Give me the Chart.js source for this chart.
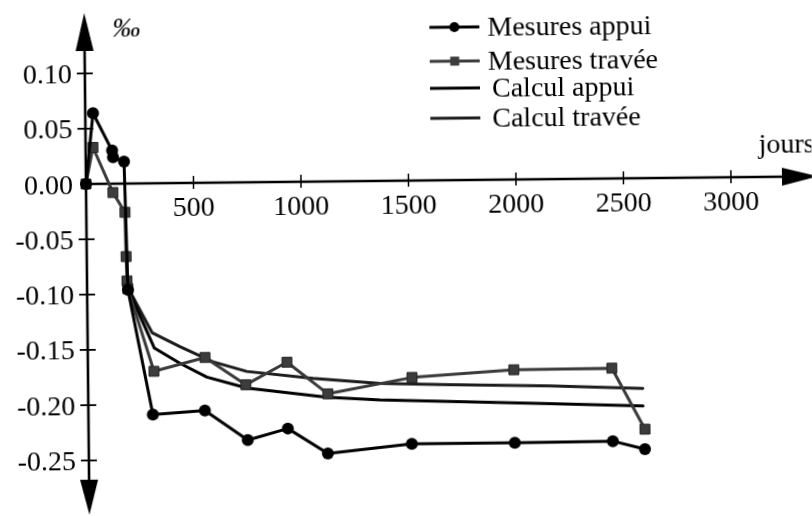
<!DOCTYPE html>
<html>
<head>
<meta charset="utf-8">
<title>Déformations différées</title>
<script src="https://cdn.jsdelivr.net/npm/chart.js@4/dist/chart.umd.min.js"></script>
<style>
  html, body { margin: 0; padding: 0; background: #fff; overflow: hidden; }
  #wrap { position: relative; width: 812px; height: 516px; overflow: hidden; background: #fff; }
  /* the drawing is slightly tilted around the axes origin */
  #chart { position: absolute; left: 0; top: 0; transform: rotate(-0.6deg); transform-origin: 86px 184px; }
</style>
</head>
<body>
<div id="wrap"><canvas id="chart" width="812" height="516"></canvas></div>
<script>
// Measured strains (‰) versus time (days)
const appuiDays   = [0, 36, 123, 127, 178, 190, 300, 542, 740, 927, 1112, 1503, 1982, 2438, 2587];
const appuiValues = [0, 0.064, 0.030, 0.024, 0.020, -0.096, -0.209, -0.206, -0.233, -0.223, -0.246, -0.238, -0.238, -0.2375, -0.245];

const traveeDays   = [0, 34, 125, 180, 183, 186, 190, 307, 545, 734, 926, 1115, 1507, 1981, 2437, 2588];
const traveeValues = [0, 0.033, -0.008, -0.026, -0.066, -0.088, -0.095, -0.170, -0.158, -0.183, -0.163, -0.192, -0.178, -0.172, -0.1715, -0.227];

// Computed strains
const calcAppuiDays   = [190, 310, 428, 553, 739, 1110, 1357, 1682, 2147, 2580];
const calcAppuiValues = [-0.095, -0.149, -0.163, -0.1757, -0.186, -0.195, -0.198, -0.200, -0.203, -0.206];

const calcTraveeDays   = [190, 300, 429, 582, 739, 1046, 1358, 1683, 2148, 2580];
const calcTraveeValues = [-0.094, -0.135, -0.148, -0.162, -0.171, -0.178, -0.183, -0.185, -0.187, -0.190];

// Axis ticks
const xTicks = [500, 1000, 1500, 2000, 2500, 3000];
const yTicks = [0.10, 0.05, 0.00, -0.05, -0.10, -0.15, -0.20, -0.25];
const xTitle = 'jours';
const yTitle = '‰';

const toPoints = (xs, ys) => xs.map((x, i) => ({ x: x, y: ys[i] }));

const FONT = '"Liberation Serif", "Times New Roman", serif';

// Draws the crossing axes with arrow heads, tick marks, tick labels and titles
const axesPlugin = {
  id: 'crossAxes',
  beforeDatasetsDraw(chart) {
    const ctx = chart.ctx;
    const xs = chart.scales.x, ys = chart.scales.y;
    const ox = xs.getPixelForValue(0), oy = ys.getPixelForValue(0);
    const yTop = ys.getPixelForValue(0.1546), yBot = ys.getPixelForValue(-0.299);
    const xEnd = xs.getPixelForValue(3405);
    ctx.save();
    ctx.strokeStyle = '#000';
    ctx.fillStyle = '#000';
    ctx.lineCap = 'butt';
    // vertical axis
    ctx.lineWidth = 2.6;
    ctx.beginPath(); ctx.moveTo(ox, yTop + 20); ctx.lineTo(ox, yBot - 20); ctx.stroke();
    // horizontal axis
    ctx.beginPath(); ctx.moveTo(ox, oy); ctx.lineTo(xEnd - 20, oy); ctx.stroke();
    // arrow heads
    ctx.beginPath(); ctx.moveTo(ox, yTop); ctx.lineTo(ox - 9, yTop + 38); ctx.lineTo(ox + 9, yTop + 38); ctx.closePath(); ctx.fill();
    ctx.beginPath(); ctx.moveTo(ox, yBot); ctx.lineTo(ox - 9, yBot - 35); ctx.lineTo(ox + 9, yBot - 35); ctx.closePath(); ctx.fill();
    ctx.beginPath(); ctx.moveTo(xEnd, oy); ctx.lineTo(xEnd - 36, oy - 9); ctx.lineTo(xEnd - 36, oy + 9); ctx.closePath(); ctx.fill();

    ctx.font = '28px ' + FONT;
    // y ticks and labels
    ctx.lineWidth = 1.8;
    ctx.textAlign = 'right';
    ctx.textBaseline = 'alphabetic';
    yTicks.forEach(v => {
      const py = ys.getPixelForValue(v);
      if (v !== 0) {
        ctx.beginPath(); ctx.moveTo(ox - 8, py); ctx.lineTo(ox + 8, py); ctx.stroke();
      }
      ctx.fillText(v.toFixed(2), ox - 13, py + 9.5);
    });
    // x ticks and labels
    ctx.lineWidth = 1.5;
    ctx.textAlign = 'center';
    xTicks.forEach(v => {
      const px = xs.getPixelForValue(v);
      ctx.beginPath(); ctx.moveTo(px, oy - 7); ctx.lineTo(px, oy + 6); ctx.stroke();
      ctx.fillText(String(v), px, oy + 32.5);
    });
    // axis titles
    ctx.textAlign = 'left';
    ctx.fillText(xTitle, xs.getPixelForValue(3130), oy - 24);
    ctx.font = 'italic 28px ' + FONT;
    ctx.fillText(yTitle, ox + 28, ys.getPixelForValue(0.1325));
    ctx.restore();
  },
  afterDraw(chart) {
    // legend: a short line sample, optional marker, then the label
    const ctx = chart.ctx;
    const rows = [31, 65, 92, 122];
    const textX = [489, 489, 493, 493];
    const x0 = 431, x1 = 481;
    ctx.save();
    ctx.font = '28px ' + FONT;
    ctx.textAlign = 'left';
    ctx.textBaseline = 'alphabetic';
    chart.data.datasets.forEach((ds, i) => {
      const y = rows[i];
      ctx.strokeStyle = ds.borderColor;
      ctx.lineWidth = ds.borderWidth;
      ctx.beginPath(); ctx.moveTo(x0, y); ctx.lineTo(x1, y); ctx.stroke();
      const mx = (x0 + x1) / 2;
      if (ds.pointStyle === 'circle' && ds.pointRadius > 0) {
        ctx.fillStyle = ds.pointBackgroundColor;
        ctx.beginPath(); ctx.arc(mx, y, 5, 0, Math.PI * 2); ctx.fill();
      } else if (ds.pointStyle === 'rect' && ds.pointRadius > 0) {
        ctx.fillStyle = ds.pointBackgroundColor;
        ctx.fillRect(mx - 4.5, y - 4.5, 9, 9);
      }
      ctx.fillStyle = '#000';
      ctx.fillText(ds.label, textX[i], y + 9.3);
    });
    ctx.restore();
  }
};

new Chart(document.getElementById('chart'), {
  type: 'line',
  data: {
    datasets: [
      {
        label: 'Mesures appui',
        data: toPoints(appuiDays, appuiValues),
        borderColor: '#000',
        borderWidth: 3,
        pointStyle: 'circle',
        pointRadius: 6,
        pointBackgroundColor: '#000',
        pointBorderColor: '#000',
        pointBorderWidth: 0
      },
      {
        label: 'Mesures travée',
        data: toPoints(traveeDays, traveeValues),
        borderColor: '#3a3a3a',
        borderWidth: 3,
        pointStyle: 'rect',
        pointRadius: 7,
        pointBackgroundColor: '#3c3c3c',
        pointBorderColor: '#222',
        pointBorderWidth: 1
      },
      {
        label: 'Calcul appui',
        data: toPoints(calcAppuiDays, calcAppuiValues),
        borderColor: '#000',
        borderWidth: 3,
        pointRadius: 0
      },
      {
        label: 'Calcul travée',
        data: toPoints(calcTraveeDays, calcTraveeValues),
        borderColor: '#1c1c1c',
        borderWidth: 3,
        pointRadius: 0
      }
    ]
  },
  options: {
    responsive: false,
    animation: false,
    devicePixelRatio: 1,
    layout: { padding: 0, autoPadding: false },
    elements: { line: { tension: 0, borderJoinStyle: 'round', borderCapStyle: 'round' } },
    plugins: { legend: { display: false }, tooltip: { enabled: false } },
    scales: {
      x: { type: 'linear', display: false, min: -400, max: 3377 },
      y: { type: 'linear', display: false, min: -0.3002, max: 0.1664 }
    }
  },
  plugins: [axesPlugin]
});
</script>
</body>
</html>
